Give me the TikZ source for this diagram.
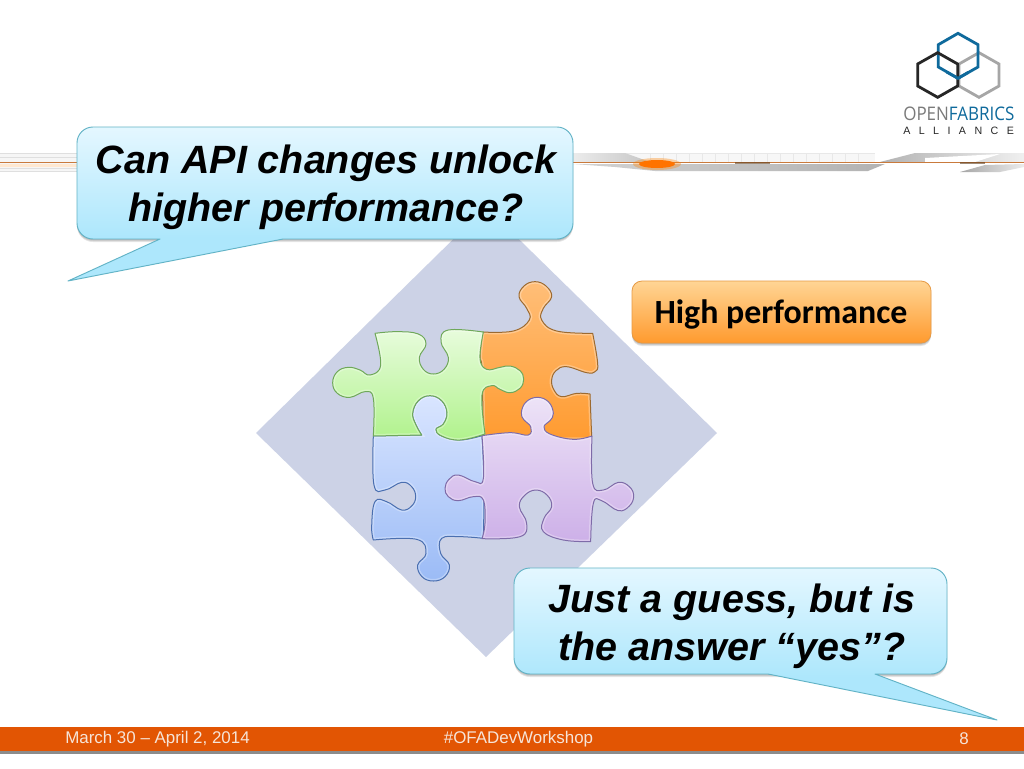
\documentclass[tikz,border=0pt]{standalone}
\usepackage{fontspec}
\setmainfont{Liberation Sans}
\newfontfamily\carlito{Carlito}
\usetikzlibrary{calc}
\definecolor{calloutA}{HTML}{E4F7FF}
\definecolor{calloutB}{HTML}{ADE7FC}
\definecolor{calloutedge}{HTML}{62B3C6}
\definecolor{diamondc}{HTML}{CCD2E6}
\definecolor{footbar}{HTML}{E25503}
\definecolor{footText}{HTML}{F6E4D8}
\definecolor{ofablue}{HTML}{0F6A9C}
\definecolor{ofadark}{HTML}{262626}
\definecolor{ofagray}{HTML}{A6A6A6}
\definecolor{ofatext}{HTML}{7A7A7A}
\definecolor{bannerline}{HTML}{C97A3C}
\definecolor{grA}{HTML}{E8FCDD}\definecolor{grB}{HTML}{B0F28C}\definecolor{grE}{HTML}{6FA85A}
\definecolor{orA}{HTML}{FFBE78}\definecolor{orB}{HTML}{FF9B30}\definecolor{orE}{HTML}{9C6A30}
\definecolor{blA}{HTML}{D9E5FF}\definecolor{blB}{HTML}{9BBBF6}\definecolor{blE}{HTML}{4A6FB0}
\definecolor{puA}{HTML}{EDE3F7}\definecolor{puB}{HTML}{CDB0E8}\definecolor{puE}{HTML}{7E6BA8}
\definecolor{boxA}{HTML}{FFD595}\definecolor{boxB}{HTML}{FF9A2E}\definecolor{boxE}{HTML}{E69A45}
\pgfdeclareverticalshading{calloutshade}{100bp}{color(0bp)=(calloutB); color(39bp)=(calloutB); color(75bp)=(calloutA); color(100bp)=(calloutA)}
\tikzset{
  callout/.style={draw=calloutedge,line width=0.7pt,shading=calloutshade,shading angle=0,line join=round},
  softshadow/.style={fill=black,opacity=0.1,rounded corners=12pt},
  qtext/.style={font=\fontsize{29.6}{36}\selectfont\bfseries\itshape,align=center,text=black},
  foot/.style={font=\fontsize{12.7}{14}\selectfont,text=footText},
  piece/.style={line width=0.75pt,line join=round},
  sm/.style={smooth,tension=.7}
}
\newcommand{\greenpath}{(165,190) -- plot[sm] coordinates {(165,190) (230,185) (295,192) (318,222) (298,262) (310,298) (340,312) (372,298) (385,262) (363,215) (385,180) (490,186)} -- plot[sm] coordinates {(490,186) (480,265) (500,298) (540,292) (570,288) (600,302) (611,328) (600,355) (570,368) (540,358) (515,347) (486,375) (495,492)} -- plot[sm] coordinates {(495,492) (420,510) (365,498) (348,478) (370,462) (381,428) (365,392) (330,377) (295,392) (278,430) (288,465) (305,495)} -- (160,498) -- plot[sm] coordinates {(160,498) (160,385) (135,365) (90,382) (52,370) (38,338) (52,305) (85,292) (120,300) (150,315) (182,285) (165,190)} -- cycle}
\newcommand{\orangepath}{(488,186) -- plot[sm] coordinates {(488,186) (580,183) (628,150) (620,115) (597,80) (612,48) (645,35) (678,48) (695,80) (670,115) (665,150) (710,183) (818,190)} -- plot[sm] coordinates {(818,190) (833,280) (825,305) (800,308) (740,290) (708,302) (695,330) (702,360) (725,380) (770,370) (810,372)} -- plot[sm] coordinates {(810,372) (815,500)} -- (810,508) -- (490,508) -- plot[sm] coordinates {(490,508) (486,300) (480,260) (488,186)} -- cycle}
\newcommand{\bluepath}{(160,498) -- (305,495) -- plot[sm] coordinates {(305,495) (288,465) (278,430) (295,392) (330,377) (365,392) (381,428) (370,462) (348,478) (365,498) (420,510) (486,497)} -- plot[sm] coordinates {(486,497) (492,640) (490,805)} -- plot[sm] coordinates {(490,805) (420,800) (365,805) (362,850) (388,885) (375,920) (340,933) (306,920) (293,885) (318,850) (290,808) (160,810)} -- plot[sm] coordinates {(160,810) (155,770) (165,695) (200,695) (245,720) (275,708) (287,680) (275,650) (245,637) (195,660) (162,645) (160,498)} -- cycle}
\newcommand{\purplepath}{(486,497) -- plot[sm] coordinates {(486,497) (570,488) (625,495) (632,470) (612,450) (604,428) (618,396) (652,382) (686,396) (700,430) (690,452) (672,470) (690,492) (760,508) (816,498)} -- plot[sm] coordinates {(816,498) (818,640) (850,660) (895,637) (928,650) (941,678) (928,708) (895,722) (845,692) (820,700) (812,815)} -- plot[sm] coordinates {(812,815) (730,810) (670,785) (672,745) (695,710) (682,676) (648,660) (614,676) (598,710) (620,760) (600,800) (486,806)} -- plot[sm] coordinates {(486,806) (495,760) (490,690) (460,680) (415,692) (385,680) (375,655) (387,628) (415,615) (465,635) (490,625) (486,497)} -- cycle}
\newcommand{\drawpiece}[4]{%
  \path[shade,top color=#2,bottom color=#3] #1;
  \begin{scope}\clip #1; \draw[white,opacity=.3,line width=3pt] #1;\end{scope}
  \draw[piece,draw=#4] #1;
}
\begin{document}
\begin{tikzpicture}[x=0.75pt,y=-0.75pt]
\useasboundingbox (0,0) rectangle (1024,768);
\fill[white] (0,0) rectangle (1024,768);

% banner, left part
\fill[gray!7] (0,153) rectangle (77,172);
\foreach \yy in {153.5,157,168,171.5}{\draw[gray!25,line width=.5pt] (0,\yy) -- (77,\yy);}
\fill[orange!18] (0,164) rectangle (77,167);
% banner, right part
\fill[gray!6] (625,153) rectangle (875,162);
\draw[gray!18,line width=.4pt] (625,153) -- (875,153);
\foreach \xx in {650,663,...,870}{\draw[gray!18,line width=.4pt] (\xx,153) -- (\xx,162);}
\path[shade,left color=gray!15,right color=gray!45] (573,153) -- (625,153) -- (650,162) -- (573,162) -- cycle;
\path[shade,left color=gray!35,right color=gray!60] (573,164) -- (885,164) -- (868,171) -- (655,171) -- (615,167) -- cycle;
\path[shade,left color=gray!60,right color=gray!12] (880,162) -- (915,153) -- (1024,153) -- (1024,162) -- cycle;
\fill[white] (925,158) -- (1000,154) -- (975,162) -- (925,162) -- cycle;
\path[shade,left color=gray!70,right color=gray!15] (960,172) -- (985,165) -- (1024,164) -- (1024,167) -- (1000,172) -- cycle;
\draw[bannerline,line width=1.1pt] (0,162.5) -- (77,162.5);
\draw[bannerline,line width=1.1pt] (573,162.5) -- (1024,162.5);
\fill[orange,opacity=.35] (657,164) ellipse (24 and 6);
\fill[orange!90!red] (657,164) ellipse (18 and 4);
\draw[black!50!brown,line width=1pt,opacity=.6] (735,163) -- (770,163);
\draw[black!50!brown,line width=1pt,opacity=.6] (960,163) -- (985,163);

% logo
\begin{scope}[shift={(880,10)},scale=1/3,line width=2.1pt,line join=miter]
 \draw[ofagray] (297,128) -- (357,162) -- (357,228) -- (297,262) -- (237,228) -- (237,162) -- cycle;
 \draw[ofablue] (234,70) -- (294,104) -- (294,171) -- (234,205) -- (175,171) -- (175,104) -- cycle;
 \draw[ofadark] (173,128) -- (233,162) -- (233,228) -- (173,262) -- (113,228) -- (113,162) -- cycle;
 \draw[ofablue] (200,186) -- (234,205) -- (265,187);
\end{scope}
\node[anchor=base west,inner sep=0pt] (ofa) at (903,120) {\scalebox{.98}[1.08]{\fontspec{Open Sans}\fontsize{13}{13}\selectfont\textcolor{ofatext}{OPEN}\textcolor{ofablue}{FABRICS}}};
\node[anchor=base west,inner sep=0pt] (alliance) at (903,134) {\makebox[83pt][s]{\fontsize{8}{8}\selectfont\textcolor{ofadark}{A\hfill L\hfill L\hfill I\hfill A\hfill N\hfill C\hfill E}}};

% diamond
\fill[diamondc] (486,207) -- (717,433) -- (486,657) -- (256,433) -- cycle;

% puzzle
\begin{scope}[shift={(320,270)},x=0.25pt,y=-0.25pt]
 \drawpiece{\orangepath}{orA}{orB}{orE}
 \drawpiece{\bluepath}{blA}{blB}{blE}
 \drawpiece{\purplepath}{puA}{puB}{puE}
 \drawpiece{\greenpath}{grA}{grB}{grE}
\end{scope}

% callout 1
\foreach \d in {1,2,3}{\fill[softshadow] (77,127+\d) rectangle (573,239+\d);}
\path[callout] (283,239) -- (68,281) -- (160,239) -- (120,239) [rounded corners=12pt] -- (77,239) -- (77,127) -- (573,127) -- (573,239) -- (400,239) [sharp corners] -- cycle;
\node[qtext] (q1) at (326,187.5) {Can API changes unlock\\higher performance?};

% orange box
\foreach \d in {1,2,3}{\fill[softshadow,rounded corners=7.5pt] (632,281+\d) rectangle (931,343+\d);}
\path[shade,top color=boxA,bottom color=boxB,draw=boxE,line width=.6pt,rounded corners=7.5pt] (632,281) rectangle (931,343);
\node[font=\carlito\fontsize{25.4}{28}\selectfont\bfseries,text=black] (hp) at (781,314) {High performance};

% callout 2
\foreach \d in {1,2,3}{\fill[softshadow] (514,568+\d) rectangle (947,674+\d);}
\path[callout] (875,674) -- (997,720) -- (768,674) -- (700,674) [rounded corners=12pt] -- (514,674) -- (514,568) -- (947,568) -- (947,674) -- (900,674) [sharp corners] -- cycle;
\node[qtext] (q2) at (732,626) {Just a guess, but is\\the answer “yes”?};

% footer
\fill[black!45] (0,751) rectangle (1024,754);
\fill[footbar] (0,727) rectangle (1024,751);
\node[foot] (date) at (157.5,739) {March 30 – April 2, 2014};
\node[foot] (tag) at (518.5,739) {\#OFADevWorkshop};
\node[foot] (pg) at (964,739) {8};
\end{tikzpicture}
\end{document}
